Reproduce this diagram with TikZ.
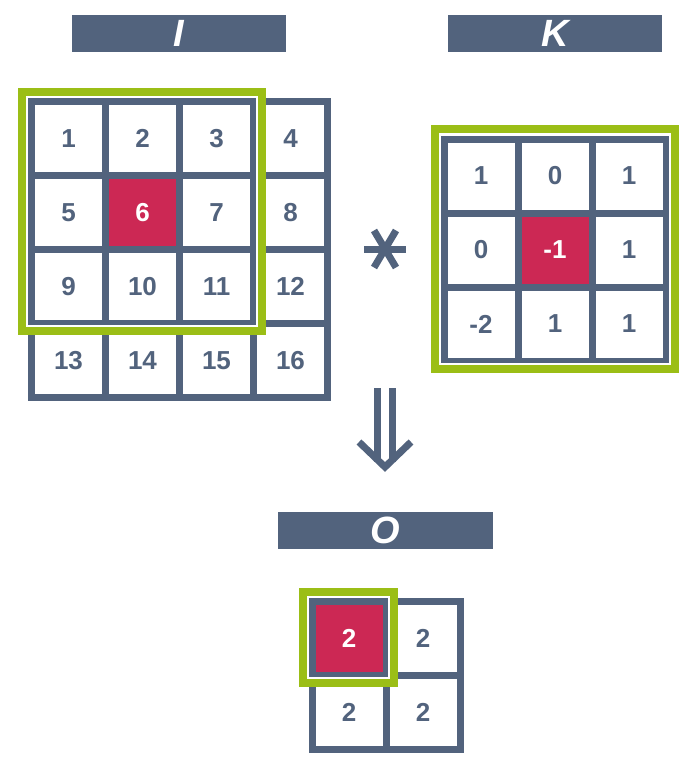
\documentclass[tikz,border=0pt]{standalone}
\usepackage{fontspec}
\setmainfont{Liberation Sans}
\usetikzlibrary{calc}
\definecolor{slate}{RGB}{82,99,125}
\definecolor{crim}{RGB}{204,40,84}
\definecolor{lime}{RGB}{155,190,22}
\tikzset{
  cellbox/.style={draw=slate, line width=7pt, minimum size=74pt, inner sep=0pt, fill=white,
    text=slate, font=\fontsize{26}{26}\selectfont\bfseries},
  hotcell/.style={cellbox, fill=crim, text=white},
  headbar/.style={fill=slate, text=white, inner sep=0pt, minimum height=37pt,
    font=\fontsize{38}{38}\selectfont\bfseries\itshape},
  winframe/.style={draw=lime, line width=8pt},
  winhalo/.style={draw=white, line width=2pt},
  thick stroke/.style={draw=slate, line width=7pt}
}
\begin{document}
\begin{tikzpicture}[x=1pt,y=-1pt]
\path[use as bounding box, fill=white] (0,0) rectangle (700,768);

% headers
\node[headbar, minimum width=214pt] (hI) at (179,33.5) {I};
\node[headbar, minimum width=214pt] (hK) at (555,33.5) {K};
\node[headbar, minimum width=215pt] (hO) at (385.5,530.5) {O};

% grid I
\foreach \v [count=\i from 0] in {1,...,16} {
  \pgfmathtruncatemacro\c{mod(\i,4)}
  \pgfmathtruncatemacro\r{div(\i,4)}
  \ifnum\v=6
    \node[hotcell] (I\v) at ({68.5+74*\c},{138.5+74*\r}) {\v};
  \else
    \node[cellbox] (I\v) at ({68.5+74*\c},{138.5+74*\r}) {\v};
  \fi
}
\node[hotcell] at (I6) {6};

% grid K
\foreach \v [count=\i from 0] in {1,0,1,0,-1,1,-2,1,1} {
  \pgfmathtruncatemacro\c{mod(\i,3)}
  \pgfmathtruncatemacro\r{div(\i,3)}
  \ifnum\i=4
    \node[hotcell] (K\i) at ({481+74*\c},{176+74*\r}) {\v};
  \else
    \node[cellbox] (K\i) at ({481+74*\c},{176+74*\r}) {\v};
  \fi
}
\node[hotcell] at (K4) {-1};

% grid O
\foreach \v [count=\i from 0] in {2,2,2,2} {
  \pgfmathtruncatemacro\c{mod(\i,2)}
  \pgfmathtruncatemacro\r{div(\i,2)}
  \ifnum\i=0
    \node[hotcell] (O\i) at ({349+74*\c},{638+74*\r}) {\v};
  \else
    \node[cellbox] (O\i) at ({349+74*\c},{638+74*\r}) {\v};
  \fi
}
\node[hotcell] at (O0) {2};

% window frames (thin white line on the inner side, then the green frame)
\draw[winhalo] (27,97) rectangle (257,326);
\draw[winframe] (22,92) rectangle (262,331);
\draw[winhalo] (440,134) rectangle (670,364);
\draw[winframe] (435,129) rectangle (675,369);
\draw[winhalo] (308,597) rectangle (389,678);
\draw[winframe] (303,592) rectangle (394,683);

% convolution asterisk
\coordinate (ast) at (385,249);
\draw[thick stroke] ($(ast)+(-21,0)$) -- ($(ast)+(21,0)$);
\draw[thick stroke] ($(ast)+(-11,-18.5)$) -- ($(ast)+(11,18.5)$);
\draw[thick stroke] ($(ast)+(11,-18.5)$) -- ($(ast)+(-11,18.5)$);

% double arrow
\coordinate (atop) at (385,388);
\coordinate (atip) at (385,467);
\draw[thick stroke] ($(atop)+(-7.5,0)$) -- ($(atop)+(-7.5,74)$);
\draw[thick stroke] ($(atop)+(7.5,0)$) -- ($(atop)+(7.5,74)$);
\draw[thick stroke, line join=miter] ($(atip)+(-26,-25)$) -- (atip) -- ($(atip)+(26,-25)$);
\end{tikzpicture}
\end{document}
